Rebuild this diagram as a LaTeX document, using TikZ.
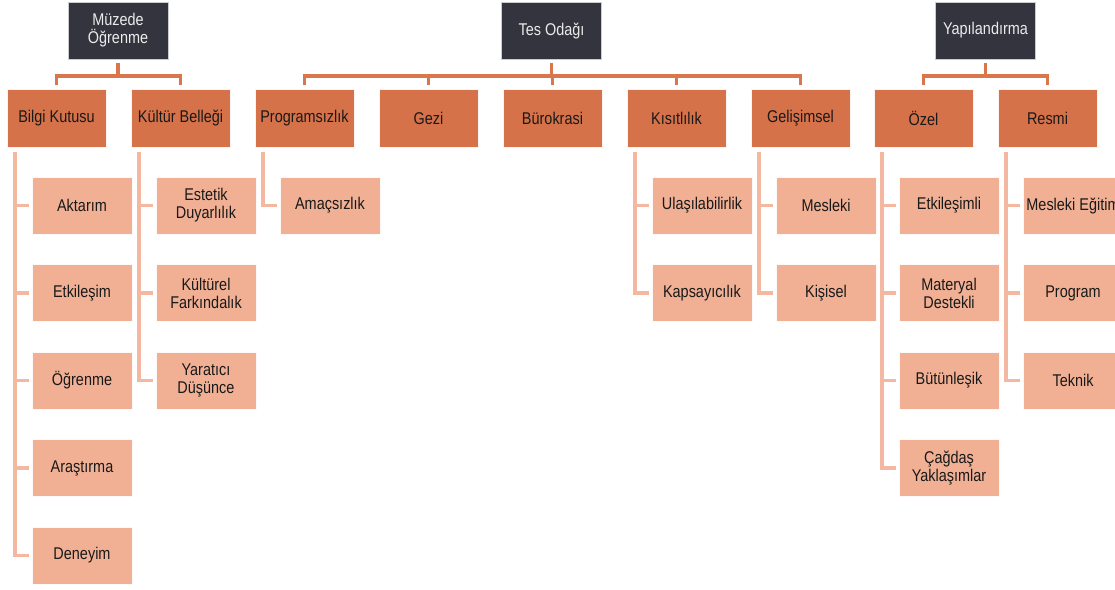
\documentclass[tikz,border=0pt]{standalone}
\usepackage{fontspec}
\setmainfont{Liberation Sans}[FakeStretch=0.85]
\definecolor{darkbox}{RGB}{52,52,63}
\definecolor{midfill}{RGB}{214,114,73}
\definecolor{leaffill}{RGB}{241,176,148}
\definecolor{conncol}{RGB}{218,118,76}
\definecolor{subcol}{RGB}{244,184,160}
\definecolor{txt}{RGB}{25,25,25}
\tikzset{
  topbox/.style={fill=darkbox, draw=white!80!black, line width=0.8pt, text=white!92!black,
    minimum width=100pt, minimum height=57pt, inner sep=0pt, align=center,
    font=\fontsize{17}{18}\selectfont},
  midbox/.style={fill=midfill, draw=white!92!midfill, line width=0.8pt, text=txt,
    minimum width=99pt, minimum height=58pt, inner sep=0pt, align=center,
    font=\fontsize{17}{18}\selectfont},
  leafbox/.style={fill=leaffill, draw=white!92!leaffill, line width=0.8pt, text=txt,
    minimum width=100pt, minimum height=57pt, inner sep=0pt, align=center,
    font=\fontsize{17}{18}\selectfont},
  conn/.style={draw=conncol, line width=3.4pt},
  sub/.style={draw=subcol, line width=3.4pt}
}
\begin{document}
\begin{tikzpicture}[x=1pt,y=-1pt]
\useasboundingbox (0,0) rectangle (1115,589);
\clip (0,0) rectangle (1115,589);
% top level
\node[topbox] (m) at (118,30.5) {Müzede\\Öğrenme};
\node[topbox] (t) at (551.5,30.5) {Tes Odağı};
\node[topbox] (y) at (985.5,30.5) {Yapılandırma};
% second level
\node[midbox] (b1) at (56.5,118) {Bilgi Kutusu};
\node[midbox] (b2) at (180.5,118) {Kültür Belleği};
\node[midbox] (b3) at (304.5,118) {Programsızlık};
\node[midbox] (b4) at (428.5,118) {Gezi};
\node[midbox] (b5) at (552.5,118) {Bürokrasi};
\node[midbox] (b6) at (676.5,118) {Kısıtlılık};
\node[midbox] (b7) at (800.5,118) {Gelişimsel};
\node[midbox] (b8) at (923.5,118) {Özel};
\node[midbox] (b9) at (1047.5,118) {Resmi};
% leaves
\node[leafbox] (l11) at (82,205.5) {Aktarım};
\node[leafbox] (l12) at (82,293) {Etkileşim};
\node[leafbox] (l13) at (82,380.5) {Öğrenme};
\node[leafbox] (l14) at (82,468) {Araştırma};
\node[leafbox] (l15) at (82,555.5) {Deneyim};
\node[leafbox] (l21) at (206,205.5) {Estetik\\Duyarlılık};
\node[leafbox] (l22) at (206,293) {Kültürel\\Farkındalık};
\node[leafbox] (l23) at (206,380.5) {Yaratıcı\\Düşünce};
\node[leafbox] (l31) at (330,205.5) {Amaçsızlık};
\node[leafbox] (l61) at (702,205.5) {Ulaşılabilirlik};
\node[leafbox] (l62) at (702,293) {Kapsayıcılık};
\node[leafbox] (l71) at (826,205.5) {Mesleki};
\node[leafbox] (l72) at (826,293) {Kişisel};
\node[leafbox] (l81) at (949,205.5) {Etkileşimli};
\node[leafbox] (l82) at (949,293) {Materyal\\Destekli};
\node[leafbox] (l83) at (949,380.5) {Bütünleşik};
\node[leafbox] (l84) at (949,468) {Çağdaş\\Yaklaşımlar};
\node[leafbox] (l91) at (1073,205.5) {Mesleki Eğitim};
\node[leafbox] (l92) at (1073,293) {Program};
\node[leafbox] (l93) at (1073,380.5) {Teknik};
% top-level connectors
\foreach \c in {b1,b2}
  \draw[conn] ([yshift=-4pt]m.south) -- (m.south |- 0,76) -| ([yshift=4pt]\c.north);
\foreach \c in {b3,b4,b5,b6,b7}
  \draw[conn] ([yshift=-4pt]t.south) -- (t.south |- 0,76) -| ([yshift=4pt]\c.north);
\foreach \c in {b8,b9}
  \draw[conn] ([yshift=-4pt]y.south) -- (y.south |- 0,76) -| ([yshift=4pt]\c.north);
% sub connectors
\foreach \c in {l11,l12,l13,l14,l15}
  \draw[sub] ([xshift=8.5pt,yshift=-5pt]b1.south west) |- ([xshift=-3pt]\c.west);
\foreach \c in {l21,l22,l23}
  \draw[sub] ([xshift=8.5pt,yshift=-5pt]b2.south west) |- ([xshift=-3pt]\c.west);
\foreach \c in {l31}
  \draw[sub] ([xshift=8.5pt,yshift=-5pt]b3.south west) |- ([xshift=-3pt]\c.west);
\foreach \c in {l61,l62}
  \draw[sub] ([xshift=8.5pt,yshift=-5pt]b6.south west) |- ([xshift=-3pt]\c.west);
\foreach \c in {l71,l72}
  \draw[sub] ([xshift=8.5pt,yshift=-5pt]b7.south west) |- ([xshift=-3pt]\c.west);
\foreach \c in {l81,l82,l83,l84}
  \draw[sub] ([xshift=8.5pt,yshift=-5pt]b8.south west) |- ([xshift=-3pt]\c.west);
\foreach \c in {l91,l92,l93}
  \draw[sub] ([xshift=8.5pt,yshift=-5pt]b9.south west) |- ([xshift=-3pt]\c.west);
\end{tikzpicture}
\end{document}
